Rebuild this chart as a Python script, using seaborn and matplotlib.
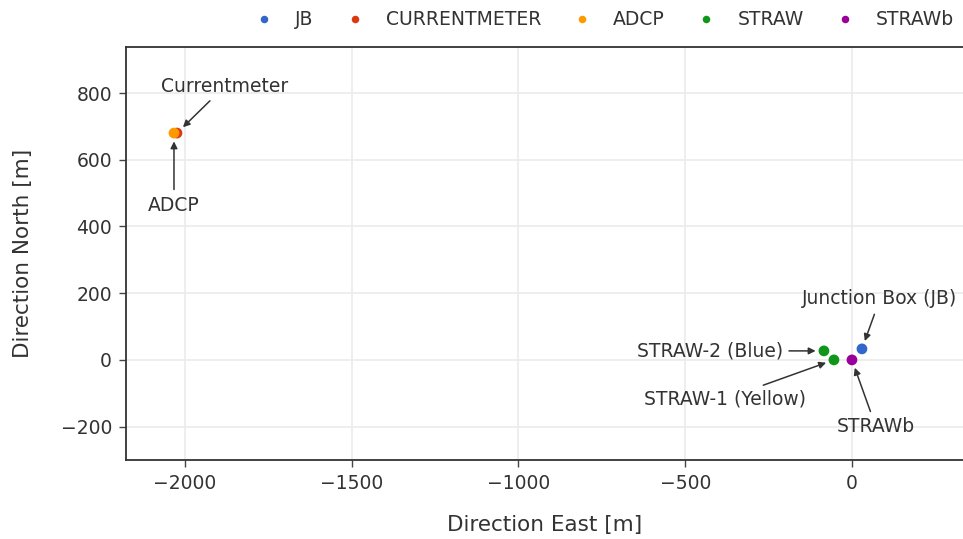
import matplotlib
matplotlib.use("Agg")
import matplotlib.pyplot as plt
import seaborn as sns
import pandas as pd

# Instrument positions relative to STRAWb, in metres
instruments = ["JB", "CURRENTMETER", "ADCP", "STRAW", "STRAW", "STRAWb"]
east = [30, -2024, -2033, -84, -54, 0]
north = [33, 680, 680, 27, 0, 0]
labels = ["Junction Box (JB)", "Currentmeter", "ADCP", "STRAW-2 (Blue)", "STRAW-1 (Yellow)", "STRAWb"]
hue_order = ["JB", "CURRENTMETER", "ADCP", "STRAW", "STRAWb"]
colors = ["#3366CC", "#DC3912", "#FF9900", "#109618", "#990099"]

df = pd.DataFrame({"East": east, "North": north, "Instrument": instruments, "Label": labels})

sns.set_theme(style="white")
plt.rcParams["font.family"] = ["DejaVu Sans"]
text_color = "#333333"

fig = plt.figure(figsize=(9.63, 5.39), dpi=100)
ax = fig.add_axes([0.1308, 0.1466, 0.8692, 0.7662])

sns.scatterplot(data=df, x="East", y="North", hue="Instrument", hue_order=hue_order,
                palette=colors, s=60, edgecolor="none", ax=ax, zorder=3, legend=True)

ax.set_xlim(-2177, 333)
ax.set_ylim(-300, 938)
ax.set_xticks([-2000, -1500, -1000, -500, 0])
ax.set_yticks([-200, 0, 200, 400, 600, 800])
ax.set_xticklabels(["\u22122000", "\u22121500", "\u22121000", "\u2212500", "0"])
ax.set_yticklabels(["\u2212200", "0", "200", "400", "600", "800"])
ax.grid(True, color="#ebebeb", linewidth=1.2, zorder=0)
ax.set_axisbelow(True)
ax.tick_params(axis="both", which="both", direction="out", length=5, width=1,
               color="#444444", labelsize=13.5, labelcolor=text_color, pad=5,
               bottom=True, left=True)
for side in ["left", "bottom", "top"]:
    ax.spines[side].set_color("#333333")
    ax.spines[side].set_linewidth(1.3)
ax.spines["right"].set_visible(False)

ax.set_xlabel("Direction East [m]", fontsize=15.5, color=text_color, labelpad=16)
ax.set_ylabel("Direction North [m]", fontsize=15.5, color=text_color, labelpad=20)

# Text offsets (pixels) for each annotation
offsets = {
    "Junction Box (JB)": (18, 50, "center"),
    "Currentmeter": (48, 47, "center"),
    "ADCP": (0, -72, "center"),
    "STRAW-2 (Blue)": (-41, 0, "right"),
    "STRAW-1 (Yellow)": (-109, -39, "center"),
    "STRAWb": (24, -67, "center"),
}
for _, row in df.iterrows():
    dx, dy, ha = offsets[row["Label"]]
    ax.annotate(row["Label"], xy=(row["East"], row["North"]), xytext=(dx, dy),
                textcoords="offset pixels", ha=ha, va="center", fontsize=13.5,
                color=text_color,
                arrowprops=dict(arrowstyle="-|>", color="#333333", lw=1.1,
                                shrinkA=2, shrinkB=6, mutation_scale=10))

handles, lbls = ax.get_legend_handles_labels()
ax.legend_.remove()
fig.legend(handles, lbls, loc="upper right", bbox_to_anchor=(1.008, 1.012), ncol=5,
           frameon=False, fontsize=13.5, labelcolor=text_color, markerscale=0.7,
           handletextpad=0.9, columnspacing=1.45, handlelength=1.5)

fig.savefig("out.png", dpi=100)
